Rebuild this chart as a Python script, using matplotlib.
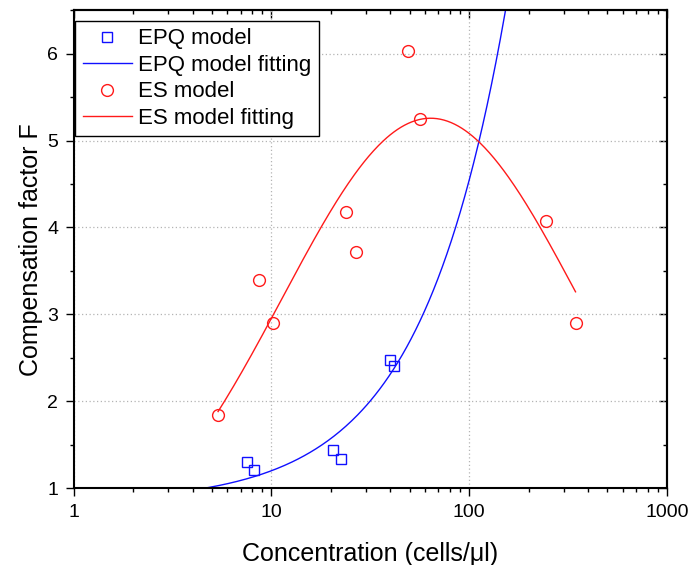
import numpy as np
import matplotlib
matplotlib.use('Agg')
import matplotlib.pyplot as plt
from matplotlib.ticker import MultipleLocator, FuncFormatter, NullFormatter, LogLocator

plt.rcParams['font.family'] = ['Liberation Sans', 'DejaVu Sans']

# compensation factor F vs. cell concentration (cells/ul)
epq_x = [7.55, 8.2, 20.6, 22.4, 39.8, 41.5]
epq_f = [1.31, 1.21, 1.445, 1.337, 2.48, 2.41]

es_x = [5.38, 8.69, 10.2, 23.8, 26.7, 49.0, 56.4, 245.0, 345.0]
es_f = [1.84, 3.40, 2.90, 4.18, 3.72, 6.03, 5.25, 4.07, 2.90]

xticks = [1, 10, 100, 1000]

# EPQ: straight-line fit F = a + b*x
b, a = np.polyfit(epq_x, epq_f, 1)
xx_epq = np.logspace(0, 3, 400)
ff_epq = a + b * xx_epq

# ES: gaussian in log10(x), zero baseline; brute-force over centre/width
u = np.log10(es_x)
fv = np.array(es_f)
best = None
for uc in np.linspace(1.3, 2.3, 201):
    for w in np.linspace(0.3, 1.5, 241):
        g = np.exp(-(u - uc) ** 2 / (2 * w ** 2))
        amp = (g @ fv) / (g @ g)
        sse = ((amp * g - fv) ** 2).sum()
        if best is None or sse < best[0]:
            best = (sse, uc, w, amp)
_, uc, w, amp = best
xx_es = np.logspace(np.log10(min(es_x)), np.log10(max(es_x)), 300)
ff_es = amp * np.exp(-(np.log10(xx_es) - uc) ** 2 / (2 * w ** 2))

fig = plt.figure(figsize=(6.89, 5.65), dpi=100)
ax = fig.add_axes([0.1067, 0.1354, 0.8613, 0.8469])

ax.plot(epq_x, epq_f, 's', ms=7, mfc='none', mec='#1010ff', mew=1.0, label='EPQ model')
ax.plot(xx_epq, ff_epq, '-', color='#1010ff', lw=1.0, label='EPQ model fitting')
ax.plot(es_x, es_f, 'o', ms=8.5, mfc='none', mec='#ff1a1a', mew=1.0, label='ES model')
ax.plot(xx_es, ff_es, '-', color='#ff1a1a', lw=1.0, label='ES model fitting')

ax.set_xscale('log')
ax.set_xlim(1, 1000)
ax.set_ylim(1, 6.5)
ax.set_xticks(xticks)
ax.xaxis.set_major_formatter(FuncFormatter(lambda v, p: '%g' % v))
ax.xaxis.set_minor_locator(LogLocator(base=10, subs=np.arange(2, 10)))
ax.xaxis.set_minor_formatter(NullFormatter())
ax.yaxis.set_major_locator(MultipleLocator(1))
ax.yaxis.set_minor_locator(MultipleLocator(0.5))

ax.grid(True, which='major', linestyle=(0, (1, 2)), color='#b4b4b4', lw=0.9)

for s in ax.spines.values():
    s.set_linewidth(1.5)
ax.tick_params(which='major', direction='out', length=6, width=1.0, labelsize=14, pad=5)
ax.tick_params(which='minor', direction='out', length=3.2, width=1.0)

# mirrored ticks on top and right, pointing inward
top = ax.secondary_xaxis('top')
top.set_xticks(xticks)
top.xaxis.set_minor_locator(LogLocator(base=10, subs=np.arange(2, 10)))
top.tick_params(which='major', direction='in', length=6, width=1.0, labeltop=False)
top.tick_params(which='minor', direction='in', length=3.2, width=1.0, labeltop=False)
top.xaxis.set_minor_formatter(NullFormatter())
top.spines['top'].set_linewidth(1.5)

right = ax.secondary_yaxis('right')
right.yaxis.set_major_locator(MultipleLocator(1))
right.yaxis.set_minor_locator(MultipleLocator(0.5))
right.tick_params(which='major', direction='in', length=6, width=1.0, labelright=False)
right.tick_params(which='minor', direction='in', length=3.2, width=1.0, labelright=False)
right.spines['right'].set_linewidth(1.5)

ax.set_xlabel('Concentration (cells/μl)', fontsize=18, labelpad=15)
ax.set_ylabel('Compensation factor F', fontsize=18, labelpad=3)

leg = ax.legend(loc='upper left', bbox_to_anchor=(0.003, 1 - 11 / 478.5),
                borderaxespad=0, fontsize=16, frameon=True, fancybox=False,
                framealpha=1, edgecolor='black', borderpad=0.33, labelspacing=0.25,
                handlelength=2.2, handletextpad=0.3)
leg.get_frame().set_linewidth(1.0)

fig.savefig('out.png', dpi=100)
